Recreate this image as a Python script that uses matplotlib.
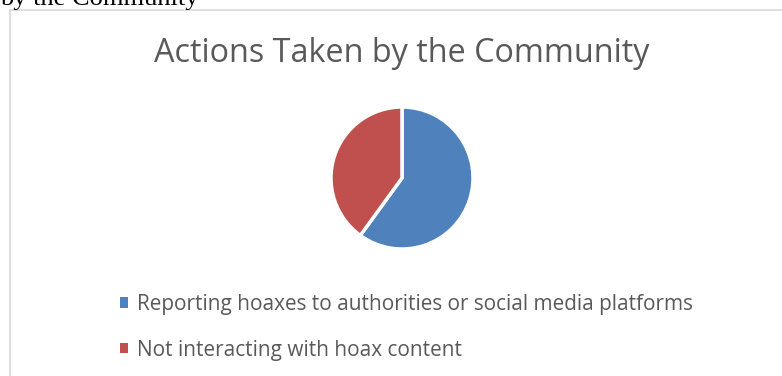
import matplotlib.pyplot as plt
from matplotlib.patches import Rectangle

# datos del grafico
labels = ["Reporting hoaxes to authorities or social media platforms",
          "Not interacting with hoax content"]
shares = [60, 40]
colors = ["#4f81bd", "#c0504d"]
title = "Actions Taken by the Community"

W, H = 782, 376
fig = plt.figure(figsize=(W / 100, H / 100), dpi=100)

# texto cortado del documento encima del grafico
fig.text(0, 1 - 5 / H, "by the Community", family="Liberation Serif",
         fontsize=19, va="baseline", ha="left", color="black")

# marco del grafico
fig.patches.append(Rectangle((9.5 / W, -0.1), 1.0, 1 - 9.5 / H + 0.1,
                             transform=fig.transFigure, fill=False,
                             edgecolor="#d9d9d9", lw=1.2))

fig.text(402 / W, 1 - 62 / H, title, family="Open Sans", fontsize=23.3,
         color="#595959", ha="center", va="baseline")

r = 71
ax = fig.add_axes([(402 - r) / W, (H - 178 - r) / H, 2 * r / W, 2 * r / H])
wedges, _ = ax.pie(shares, colors=colors, startangle=90, counterclock=False,
                   wedgeprops=dict(edgecolor="white", linewidth=2.5))
ax.set_xlim(-1.0, 1.0)
ax.set_ylim(-1.0, 1.0)
ax.set_aspect("equal")

leg = fig.legend(wedges, labels, loc="upper left",
                 bbox_to_anchor=(101 / W, 1 - 275 / H), frameon=False,
                 prop=dict(family="Open Sans", size=14.95), labelcolor="#595959",
                 handlelength=0.4, handleheight=0.4, handletextpad=0.45,
                 labelspacing=1.2)
for h in leg.legend_handles:
    h.set_linewidth(0)

fig.savefig("out.png", dpi=100)
